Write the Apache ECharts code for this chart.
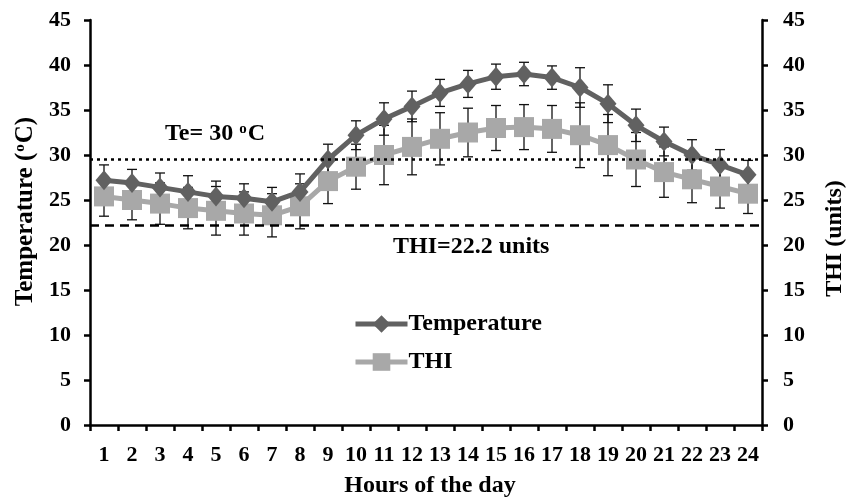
<!DOCTYPE html>
<html>
<head>
<meta charset="utf-8">
<script src="https://cdn.jsdelivr.net/npm/echarts@6/dist/echarts.min.js"></script>
<style>html,body{margin:0;padding:0;background:#fff}#c{width:854px;height:499px}</style>
</head>
<body>
<div id="c"></div>
<script>
const hours = ['1','2','3','4','5','6','7','8','9','10','11','12','13','14','15','16','17','18','19','20','21','22','23','24'];
const temperature = [27.2,26.9,26.4,25.9,25.4,25.2,24.8,25.9,29.5,32.2,34.0,35.4,36.9,37.9,38.7,39.0,38.6,37.5,35.7,33.3,31.5,30.0,28.9,27.8];
const temperatureSD = [1.7,1.5,1.6,1.8,1.7,1.6,1.6,2.0,1.7,1.6,1.8,1.7,1.5,1.5,1.4,1.3,1.3,2.2,2.1,1.8,1.6,1.7,1.7,1.6];
const thi = [25.4,25.0,24.6,24.1,23.8,23.5,23.3,24.3,27.1,28.7,30.0,30.9,31.8,32.5,33.0,33.1,32.9,32.2,31.1,29.5,28.1,27.3,26.5,25.7];
const thiSD = [2.2,2.2,2.3,2.3,2.7,2.4,2.4,2.5,2.5,2.5,3.3,3.1,2.9,2.7,2.5,2.5,2.6,3.6,3.4,3.0,2.8,2.6,2.4,2.2];
const teLine = 29.5;
const thiLine = 22.2;
const yTicks = [0,45,5];

const font = '"Liberation Serif","Times New Roman",serif';
const chart = echarts.init(document.getElementById('c'));

function errData(vals, sds){ return vals.map((v,i)=>[i, v-sds[i], v+sds[i]]); }
function errRender(params, api){
  const x = api.value(0);
  const lo = api.coord([x, api.value(1)]);
  const hi = api.coord([x, api.value(2)]);
  const w = 5;
  const st = {stroke:'#111', lineWidth:1.3};
  return {type:'group', children:[
    {type:'line', shape:{x1:lo[0],y1:lo[1],x2:hi[0],y2:hi[1]}, style:st},
    {type:'line', shape:{x1:lo[0]-w,y1:lo[1],x2:lo[0]+w,y2:lo[1]}, style:st},
    {type:'line', shape:{x1:hi[0]-w,y1:hi[1],x2:hi[0]+w,y2:hi[1]}, style:st}
  ]};
}

const supRich = {
  a:{fontFamily:font, fontWeight:'bold', fontSize:25, color:'#000'},
  s:{fontFamily:font, fontWeight:'bold', fontSize:15, color:'#000', verticalAlign:'top', padding:[0,1,9,1]}
};

const axisCommon = {
  type:'value', min:yTicks[0], max:yTicks[1], interval:yTicks[2],
  splitLine:{show:false},
  axisLine:{show:true, lineStyle:{color:'#000', width:2.5}},
  axisTick:{show:true, inside:false, length:6, lineStyle:{color:'#000', width:2.5}},
  axisLabel:{color:'#000', fontFamily:font, fontWeight:'bold', fontSize:22},
  nameLocation:'middle', nameRotate:90
};

chart.setOption({
  animation:false,
  backgroundColor:'#fff',
  grid:{left:90, right:92, top:20, bottom:74, containLabel:false, outerBoundsMode:'none'},
  legend:{
    orient:'vertical', left:348, top:307, itemWidth:52, itemHeight:22, itemGap:14,
    data:['Temperature','THI'],
    lineStyle:{width:5},
    textStyle:{color:'#000', fontFamily:font, fontWeight:'bold', fontSize:24, padding:[0,0,0,-4]}
  },
  xAxis:{
    type:'category', data:hours, boundaryGap:true,
    axisLine:{lineStyle:{color:'#000', width:2.5}},
    axisTick:{show:true, inside:false, length:6, interval:0, lineStyle:{color:'#000', width:2.5}},
    axisLabel:{color:'#000', fontFamily:font, fontWeight:'bold', fontSize:22, margin:19, interval:0},
    name:'Hours of the day', nameLocation:'middle', nameGap:49,
    nameTextStyle:{color:'#000', fontFamily:font, fontWeight:'bold', fontSize:24, padding:[0,0,0,8]}
  },
  yAxis:[
    Object.assign({}, axisCommon, {position:'left', name:'{a|Temperature (}{s|o}{a|C)}', nameGap:52,
      nameTextStyle:{color:'#000', fontFamily:font, fontWeight:'bold', fontSize:25, rich:supRich, padding:[0,0,0,22]},
      axisLabel:Object.assign({}, axisCommon.axisLabel, {margin:19})}),
    Object.assign({}, axisCommon, {position:'right', name:'THI (units)', nameGap:61,
      nameTextStyle:{color:'#000', fontFamily:font, fontWeight:'bold', fontSize:24, padding:[0,32,0,0]},
      axisLabel:Object.assign({}, axisCommon.axisLabel, {margin:21})})
  ],
  graphic:[
    {type:'text', left:165, top:122,
      style:{text:'{a|Te= 30 }{s|o}{a|C}', rich:{
        a:{fontFamily:font, fontWeight:'bold', fontSize:24, fill:'#000'},
        s:{fontFamily:font, fontWeight:'bold', fontSize:15, fill:'#000', verticalAlign:'top', padding:[0,1,8,0]}}}},
    {type:'text', left:393, top:235,
      style:{text:'THI=22.2 units', fontFamily:font, fontWeight:'bold', fontSize:24, fill:'#000'}}
  ],
  series:[
    {type:'custom', name:'errT', yAxisIndex:0, renderItem:errRender, data:errData(temperature, temperatureSD), z:1, silent:true},
    {type:'custom', name:'errH', yAxisIndex:1, renderItem:errRender, data:errData(thi, thiSD), z:1, silent:true},
    {type:'line', name:'THI', yAxisIndex:1, data:thi, symbol:'rect', symbolSize:20,
      lineStyle:{color:'#a8a8a8', width:5}, itemStyle:{color:'#a8a8a8'}, z:3},
    {type:'line', name:'Temperature', yAxisIndex:0, data:temperature, symbol:'diamond', symbolSize:[17,20],
      lineStyle:{color:'#616161', width:5}, itemStyle:{color:'#616161'}, z:4,
      markLine:{silent:true, symbol:'none', label:{show:false},
        data:[
          {yAxis:teLine, lineStyle:{color:'#000', type:[3,4], width:2.5}},
          {yAxis:thiLine, lineStyle:{color:'#000', type:[9,6], width:2.5}}
        ]}}
  ]
});
</script>
</body>
</html>
